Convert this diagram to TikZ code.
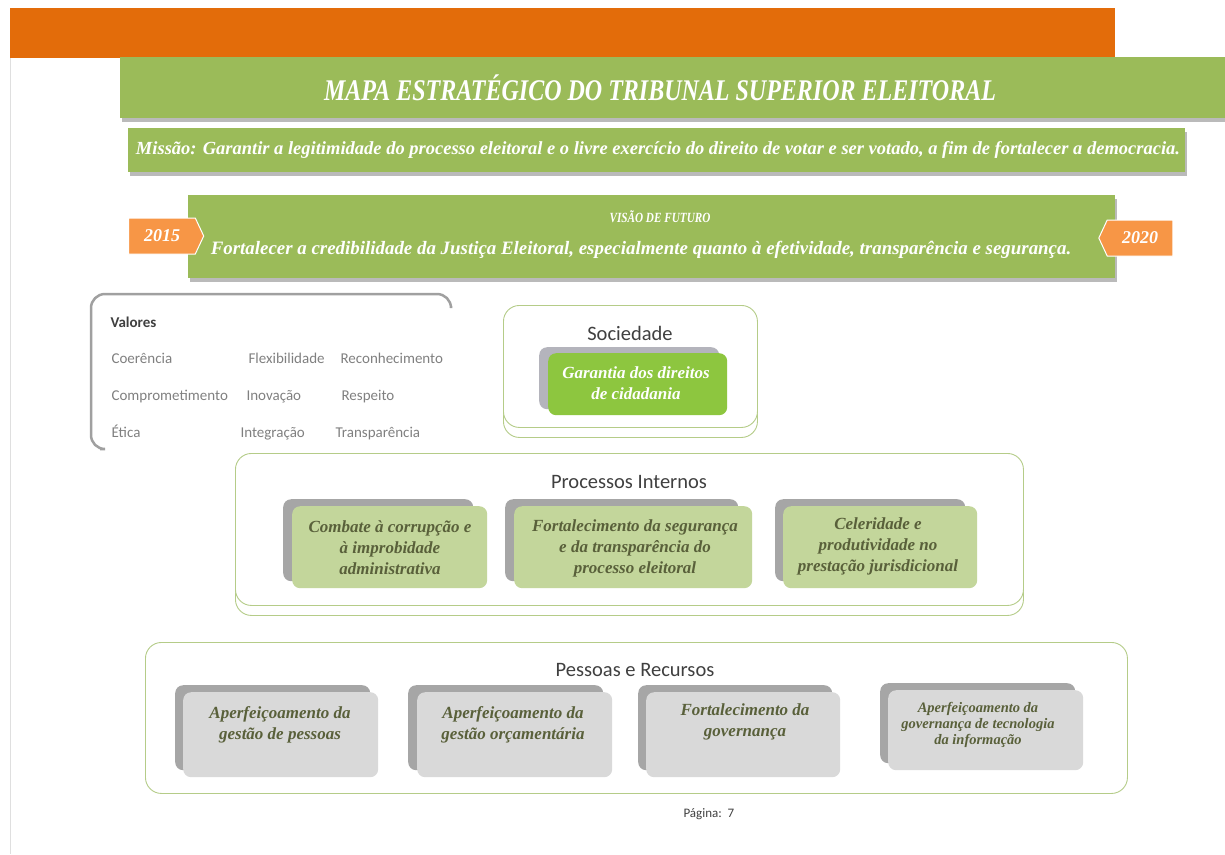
\documentclass[tikz,border=0pt]{standalone}
\usepackage{fontspec}
\setmainfont{Liberation Serif}
\setsansfont{Carlito}
\newfontfamily\condserif[FakeStretch=0.8]{Liberation Serif}
\usepackage{tikz}
\usetikzlibrary{positioning, shapes.symbols, shadows}

\definecolor{orangebar}{HTML}{E36C0A}
\definecolor{greenbar}{HTML}{9BBB59}
\definecolor{tabcolor}{HTML}{F79646}
\definecolor{socgreen}{HTML}{8DC63F}
\definecolor{procgreen}{HTML}{C3D69B}
\definecolor{resgray}{HTML}{D9D9D9}
\definecolor{shadowgray}{HTML}{A6A6A6}
\definecolor{lavendergray}{HTML}{B4B4BC}
\definecolor{perspline}{HTML}{B5CC88}
\definecolor{titlegray}{HTML}{404040}
\definecolor{valgray}{HTML}{808080}
\definecolor{objtextcolor}{HTML}{59603A}
\definecolor{valline}{HTML}{A0A0A0}

\begin{document}
\begin{tikzpicture}[x=1pt, y=-1pt,
    bar/.style={anchor=north west, inner sep=0pt, outer sep=0pt},
    barshadow/.style={drop shadow={shadow xshift=2pt, shadow yshift=-4pt, fill=black!45, opacity=.6}},
    bartext/.style={text=white, font=\rmfamily\bfseries\itshape},
    tab/.style={signal, signal pointer angle=130, fill=tabcolor, draw=white, line width=1pt, text=white, font=\rmfamily\bfseries\itshape\fontsize{18}{20}\selectfont, inner sep=0pt, minimum height=36pt},
    persp/.style={draw=perspline, line width=0.9pt, fill=white, rounded corners=16pt, anchor=north west, inner sep=0pt},
    persptitle/.style={font=\sffamily\fontsize{20.5}{24}\selectfont, text=titlegray},
    objshadow/.style={fill=shadowgray, rounded corners=8pt, anchor=north west, inner sep=0pt},
    objbox/.style={rounded corners=8pt, anchor=north west, inner sep=0pt},
    objtext/.style={align=center, text=objtextcolor, font=\rmfamily\bfseries\itshape\fontsize{17}{21}\selectfont},
    valor/.style={anchor=base west, text=valgray, font=\sffamily\fontsize{15}{18}\selectfont}
  ]
  \useasboundingbox (0,0) rectangle (1225,854);
  \fill[white] (0,0) rectangle (1225,854);
  \draw[gray!25] (10,57) -- (10,854);

  % cabecalho
  \node[bar, fill=orangebar, minimum width=1105pt, minimum height=50pt] (header) at (10,8) {};
  \node[bar, fill=greenbar, minimum width=1105pt, minimum height=61pt, barshadow] (titlebar) at (120,57) {};
  \node[bartext, font=\condserif\bfseries\itshape] (title) at (660,88) {\fontsize{30}{34}\selectfont MAPA ESTRATÉGICO DO TRIBUNAL SUPERIOR ELEITORAL};

  % missao
  \node[bar, fill=greenbar, minimum width=1057pt, minimum height=44pt, barshadow] (missao) at (128,128) {};
  \node[bartext] (missaotxt) at (658,150) {\fontsize{18.5}{21}\selectfont Missão: Garantir a legitimidade do processo eleitoral e o livre exercício do direito de votar e ser votado, a fim de fortalecer a democracia.};

  % visao
  \node[bar, fill=greenbar, minimum width=927pt, minimum height=83pt, barshadow] (visao) at (188,195) {};
  \node[bartext, font=\condserif\bfseries\itshape] (visaohead) at (660,217) {\fontsize{14}{17}\selectfont VISÃO DE FUTURO};
  \node[bartext] (visaotxt) at (641,250) {\fontsize{18.9}{21}\selectfont Fortalecer a credibilidade da Justiça Eleitoral, especialmente quanto à efetividade, transparência e segurança.};
  \node[tab, signal to=east, minimum width=75pt] (ano1) at (162,236) {2015};
  \node[tab, signal to=west, minimum width=74pt] (ano2) at (1140,238) {2020};

  % valores
  \draw[valline, line width=2.5pt, rounded corners=14pt] (100,449) -- (91,449) -- (91,294) -- (451,294) -- (451,306);
  \node[valor, text=titlegray, font=\sffamily\bfseries\fontsize{15}{18}\selectfont] (valores) at (107,327) {Valores};
  \node[valor] (v11) at (108,363) {Coerência};
  \node[valor] (v12) at (245,363) {Flexibilidade};
  \node[valor] (v13) at (337,363) {Reconhecimento};
  \node[valor] (v21) at (108,400) {Comprometimento};
  \node[valor] (v22) at (243,400) {Inovação};
  \node[valor] (v23) at (338,400) {Respeito};
  \node[valor] (v31) at (108,437) {Ética};
  \node[valor] (v32) at (237,437) {Integração};
  \node[valor] (v33) at (332,437) {Transparência};

  % sociedade
  \node[persp, minimum width=254pt, minimum height=122pt] (socback) at (503,315) {};
  \node[persp, minimum width=254pt, minimum height=122pt] (soc) at (503,305) {};
  \node[persptitle] (soctitle) at (630,333) {Sociedade};
  \node[objshadow, fill=lavendergray, minimum width=180pt, minimum height=62pt] (soc1s) at (539,347) {};
  \node[objbox, fill=socgreen, minimum width=179pt, minimum height=62pt] (soc1) at (548,353) {};
  \node[objtext, text=white] (soc1txt) at (636,383) {Garantia dos direitos\\de cidadania};

  % processos internos
  \node[persp, minimum width=788pt, minimum height=152pt] (procback) at (235,463) {};
  \node[persp, minimum width=788pt, minimum height=152pt] (proc) at (235,453) {};
  \node[persptitle] (proctitle) at (629,482) {Processos Internos};
  \node[objshadow, minimum width=190pt, minimum height=82pt] (proc1s) at (283,499) {};
  \node[objbox, fill=procgreen, minimum width=195pt, minimum height=82pt] (proc1) at (292,506) {};
  \node[objtext] (proc1txt) at (390,548) {Combate à corrupção e\\à improbidade\\administrativa};
  \node[objshadow, minimum width=233pt, minimum height=82pt] (proc2s) at (505,499) {};
  \node[objbox, fill=procgreen, minimum width=238pt, minimum height=82pt] (proc2) at (514,506) {};
  \node[objtext] (proc2txt) at (635,548) {Fortalecimento da segurança\\e da transparência do\\processo eleitoral};
  \node[objshadow, minimum width=190pt, minimum height=82pt] (proc3s) at (775,499) {};
  \node[objbox, fill=procgreen, minimum width=194pt, minimum height=82pt] (proc3) at (783,506) {};
  \node[objtext] (proc3txt) at (878,546) {Celeridade e\\produtividade no\\prestação jurisdicional};

  % pessoas e recursos
  \node[persp, minimum width=982pt, minimum height=151pt] (pess) at (145,642) {};
  \node[persptitle] (pesstitle) at (635,670) {Pessoas e Recursos};
  \node[objshadow, minimum width=195pt, minimum height=85pt] (pess1s) at (175,685) {};
  \node[objbox, fill=resgray, minimum width=195pt, minimum height=85pt] (pess1) at (183,692) {};
  \node[objtext] (pess1txt) at (280,725) {Aperfeiçoamento da\\gestão de pessoas};
  \node[objshadow, minimum width=195pt, minimum height=85pt] (pess2s) at (408,685) {};
  \node[objbox, fill=resgray, minimum width=195pt, minimum height=85pt] (pess2) at (417,692) {};
  \node[objtext] (pess2txt) at (513,725) {Aperfeiçoamento da\\gestão orçamentária};
  \node[objshadow, minimum width=194pt, minimum height=85pt] (pess3s) at (638,685) {};
  \node[objbox, fill=resgray, minimum width=194pt, minimum height=85pt] (pess3) at (646,692) {};
  \node[objtext] (pess3txt) at (745,722) {Fortalecimento da\\governança};
  \node[objshadow, minimum width=195pt, minimum height=80pt] (pess4s) at (880,683) {};
  \node[objbox, fill=resgray, minimum width=195pt, minimum height=80pt] (pess4) at (888,690) {};
  \node[objtext, font=\rmfamily\bfseries\itshape\fontsize{14.5}{16}\selectfont] (pess4txt) at (978,725) {Aperfeiçoamento da\\governança de tecnologia\\da informação};

  \node[anchor=base west, font=\sffamily\fontsize{13}{15}\selectfont, text=titlegray] (pagina) at (680,817) {Página:\ \ 7};
\end{tikzpicture}
\end{document}
